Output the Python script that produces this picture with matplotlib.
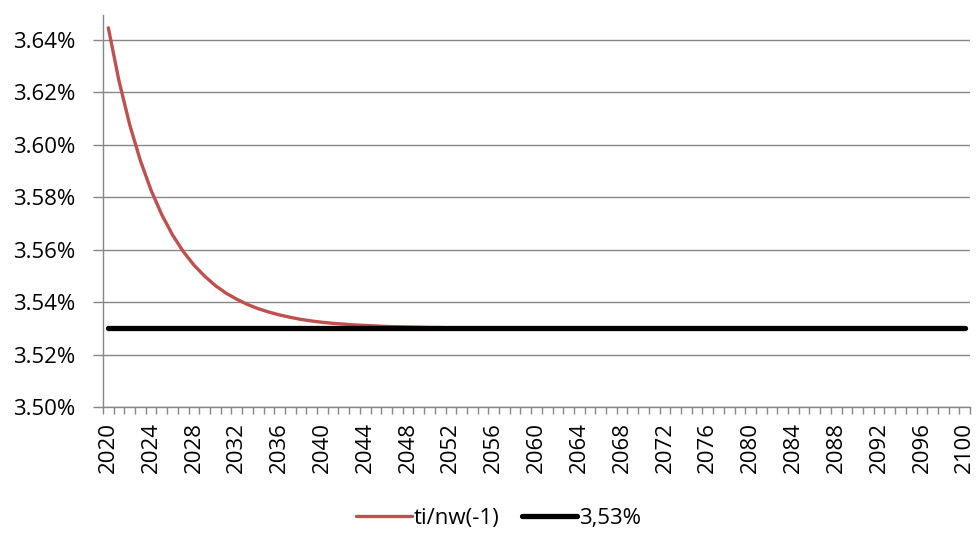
import matplotlib
matplotlib.use("Agg")
import matplotlib.pyplot as plt
from matplotlib.ticker import FixedLocator, FuncFormatter

years = list(range(2020, 2101))
tick_years = list(range(2020, 2101, 4))

ti_nw = [3.6446, 3.6243, 3.6076, 3.5939, 3.5826, 3.5733, 3.5656, 3.5593, 3.5541, 3.5499,
         3.5463, 3.5434, 3.5411, 3.5391, 3.5375, 3.5362, 3.5351, 3.5342, 3.5334, 3.5328,
         3.5323, 3.5319, 3.5316, 3.5313, 3.5311, 3.5309, 3.5307, 3.5306, 3.5305, 3.5304,
         3.5303, 3.5303, 3.5302, 3.5302, 3.5302, 3.5301, 3.5301, 3.5301, 3.5301, 3.5301,
         3.5300, 3.5300, 3.5300, 3.5300, 3.5300, 3.5300, 3.5300, 3.5300, 3.5300, 3.5300,
         3.5300, 3.5300, 3.5300, 3.5300, 3.5300, 3.5300, 3.5300, 3.5300, 3.5300, 3.5300,
         3.5300, 3.5300, 3.5300, 3.5300, 3.5300, 3.5300, 3.5300, 3.5300, 3.5300, 3.5300,
         3.5300, 3.5300, 3.5300, 3.5300, 3.5300, 3.5300, 3.5300, 3.5300, 3.5300, 3.5300,
         3.5300]
const_353 = [3.53, 3.53, 3.53, 3.53, 3.53, 3.53, 3.53, 3.53, 3.53, 3.53,
             3.53, 3.53, 3.53, 3.53, 3.53, 3.53, 3.53, 3.53, 3.53, 3.53,
             3.53, 3.53, 3.53, 3.53, 3.53, 3.53, 3.53, 3.53, 3.53, 3.53,
             3.53, 3.53, 3.53, 3.53, 3.53, 3.53, 3.53, 3.53, 3.53, 3.53,
             3.53, 3.53, 3.53, 3.53, 3.53, 3.53, 3.53, 3.53, 3.53, 3.53,
             3.53, 3.53, 3.53, 3.53, 3.53, 3.53, 3.53, 3.53, 3.53, 3.53,
             3.53, 3.53, 3.53, 3.53, 3.53, 3.53, 3.53, 3.53, 3.53, 3.53,
             3.53, 3.53, 3.53, 3.53, 3.53, 3.53, 3.53, 3.53, 3.53, 3.53,
             3.53]
y_ticks = [3.50, 3.52, 3.54, 3.56, 3.58, 3.60, 3.62, 3.64]
series_names = ["ti/nw(-1)", "3,53%"]

plt.rcParams['font.family'] = ['Open Sans', 'DejaVu Sans']
fig = plt.figure(figsize=(9.76, 5.33), dpi=100)
ax = fig.add_axes([0.1055, 0.2364, 0.8884, 0.7355])

x = list(range(len(years)))
ax.plot(x, ti_nw, color="#C0504D", lw=2.4, solid_capstyle="round", label=series_names[0], zorder=3)
ax.plot(x, const_353, color="black", lw=3.8, solid_capstyle="round", label=series_names[1], zorder=4)

ax.set_xlim(-0.5, len(years) - 0.5)
ax.set_ylim(3.50, 3.6495)

grid_c = "#868686"
ax.yaxis.set_major_locator(FixedLocator(y_ticks))
ax.yaxis.set_major_formatter(FuncFormatter(lambda v, p: f"{v:.2f}%"))
ax.grid(axis="y", color=grid_c, lw=1.0, zorder=1)
ax.set_axisbelow(True)

ax.xaxis.set_major_locator(FixedLocator([years.index(yv) for yv in tick_years]))
ax.set_xticklabels([str(yv) for yv in tick_years], rotation=90)
ax.xaxis.set_minor_locator(FixedLocator([i - 0.5 for i in range(len(years) + 1)]))
ax.tick_params(axis="x", which="major", length=0, pad=11, labelsize=16, colors="black")
ax.tick_params(axis="x", which="minor", length=5, width=1, color=grid_c, direction="out")
ax.tick_params(axis="y", which="major", length=7, width=1, color=grid_c, labelsize=16, labelcolor="black", pad=13)

for s in ["top", "right"]:
    ax.spines[s].set_visible(False)
for s in ["left", "bottom"]:
    ax.spines[s].set_color(grid_c)
    ax.spines[s].set_linewidth(1.0)

leg = fig.legend(loc="center", bbox_to_anchor=(0.511, 0.028), ncol=2, frameon=False,
                 fontsize=16, handlelength=2.5, handletextpad=0.1, columnspacing=1.0)

fig.savefig("out.png", dpi=100)
